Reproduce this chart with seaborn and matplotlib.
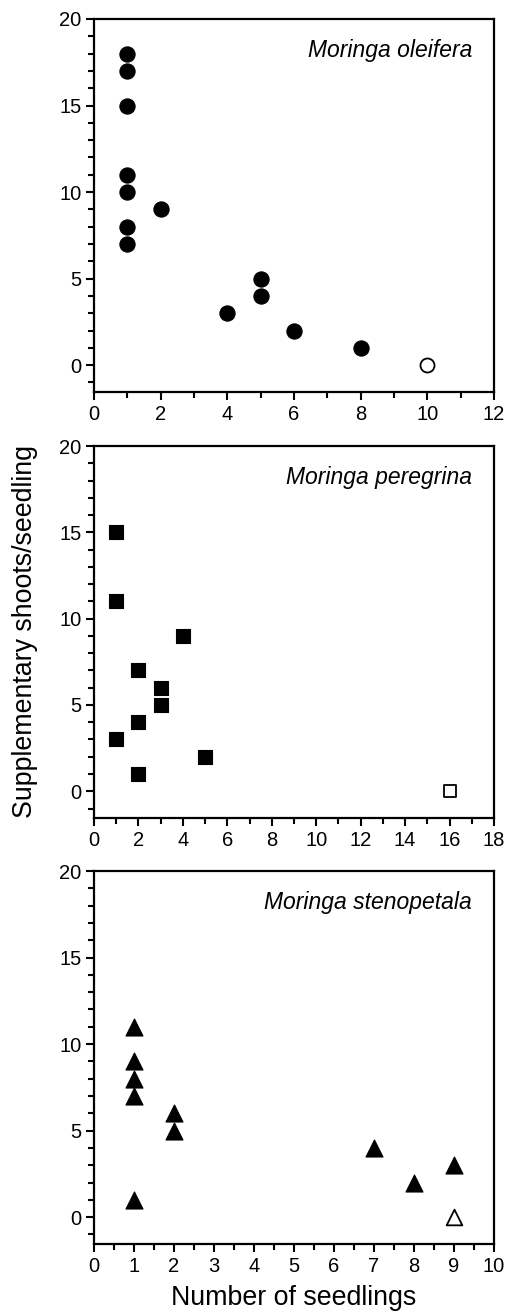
import matplotlib
matplotlib.use("Agg")
import matplotlib.pyplot as plt
import seaborn as sns
import pandas as pd
from matplotlib.ticker import MultipleLocator

# ---- data ----
species = ["Moringa oleifera", "Moringa peregrina", "Moringa stenopetala"]

oleifera_x = [1, 1, 1, 1, 1, 1, 1, 2, 4, 5, 5, 6, 8]
oleifera_y = [18, 17, 15, 11, 10, 8, 7, 9, 3, 5, 4, 2, 1]
oleifera_open_x = [10]
oleifera_open_y = [0]

peregrina_x = [1, 1, 4, 2, 3, 3, 2, 1, 5, 2]
peregrina_y = [15, 11, 9, 7, 6, 5, 4, 3, 2, 1]
peregrina_open_x = [16]
peregrina_open_y = [0]

stenopetala_x = [1, 1, 1, 1, 1, 2, 2, 7, 8, 9]
stenopetala_y = [11, 9, 8, 7, 1, 6, 5, 4, 2, 3]
stenopetala_open_x = [9]
stenopetala_open_y = [0]

x_limits = [12, 18, 10]
x_major = [2, 2, 1]
x_minor = [1, 1, 0.5]

sns.set_style("ticks")
plt.rcParams["font.family"] = ["Liberation Sans", "DejaVu Sans"]

fig = plt.figure(figsize=(5.08, 13.15), dpi=100)

W, H = 508, 1315
panels_px = [(19, 392), (446, 818), (871, 1244)]  # top, bottom in px
left_px, right_px = 94, 494

datasets = [
    (oleifera_x, oleifera_y, oleifera_open_x, oleifera_open_y, "o", 120),
    (peregrina_x, peregrina_y, peregrina_open_x, peregrina_open_y, "s", 100),
    (stenopetala_x, stenopetala_y, stenopetala_open_x, stenopetala_open_y, "^", 150),
]

axes = []
for i, ((top, bot), (fx, fy, ox, oy, mk, sz)) in enumerate(zip(panels_px, datasets)):
    ax = fig.add_axes([left_px / W, 1 - bot / H, (right_px - left_px) / W, (bot - top) / H])
    axes.append(ax)
    df_f = pd.DataFrame({"x": fx, "y": fy})
    df_o = pd.DataFrame({"x": ox, "y": oy})
    sns.scatterplot(data=df_f, x="x", y="y", ax=ax, marker=mk, s=sz,
                    color="black", edgecolor="black", linewidth=0.8, zorder=3)
    sns.scatterplot(data=df_o, x="x", y="y", ax=ax, marker=mk, s=sz * 0.85,
                    facecolor="white", edgecolor="black", linewidth=1.3, zorder=3)
    ax.set_xlim(0, x_limits[i])
    ax.set_ylim(-1.55, 20)
    ax.xaxis.set_major_locator(MultipleLocator(x_major[i]))
    ax.xaxis.set_minor_locator(MultipleLocator(x_minor[i]))
    ax.yaxis.set_major_locator(MultipleLocator(5))
    ax.yaxis.set_minor_locator(MultipleLocator(1))
    ax.tick_params(axis="both", which="major", direction="out", length=6, width=1.5,
                   labelsize=14.5, color="black", labelcolor="black", pad=3)
    ax.tick_params(axis="both", which="minor", direction="out", length=4.5, width=1.5,
                   color="black")
    ax.tick_params(top=False, right=False, which="both")
    for sp in ax.spines.values():
        sp.set_visible(True)
        sp.set_linewidth(1.6)
        sp.set_color("black")
    ax.set_xlabel("")
    ax.set_ylabel("")
    ax.text(0.945, 0.915, species[i], transform=ax.transAxes, ha="right", va="center",
            fontsize=16.5, fontstyle="italic", color="black")

fig.text(25 / W, 1 - 632 / H, "Supplementary shoots/seedling", rotation=90,
         ha="center", va="center", fontsize=19.3, color="black")
fig.text(294 / W, 1 - 1298 / H, "Number of seedlings", ha="center", va="center",
         fontsize=19.3, color="black")

fig.savefig("out.png", dpi=100, facecolor="white")
